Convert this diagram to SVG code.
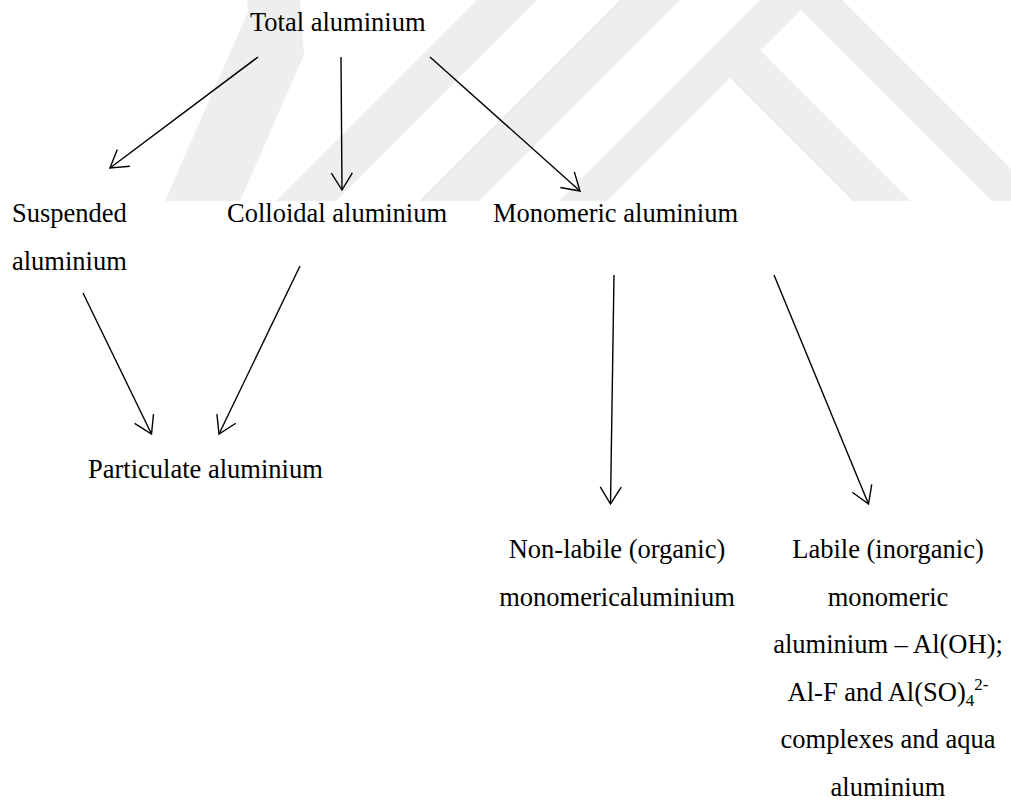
<svg xmlns="http://www.w3.org/2000/svg" width="1011" height="803" viewBox="0 0 1011 803">
  <defs>
    <style>
      .t { font-family: "Liberation Serif", "Times New Roman", serif; font-size: 26.5px; fill: #000; }
      .c { text-anchor: middle; }
      .edge { stroke: #000; stroke-width: 1.4; fill: none; marker-end: url(#ah); }
      .wm { fill: #eeeeee; stroke: none; }
    </style>
    <marker id="ah" viewBox="-20 -12 22 24" refX="0" refY="0" markerWidth="22" markerHeight="24" markerUnits="userSpaceOnUse" orient="auto">
      <path d="M-17,-10.5 L0,0 L-17,10.5" fill="none" stroke="#000" stroke-width="1.4"/>
    </marker>
  </defs>
  <rect width="1011" height="803" fill="#ffffff"/>

  <g id="watermark">
    <polygon class="wm" points="247,0 300,0 304,55 240,201 165,201 248,12"/>
    <polygon class="wm" points="477,0 537,0 336,201 276,201"/>
    <polygon class="wm" points="620,0 680,0 479,201 419,201"/>
    <polygon class="wm" points="760,0 842,0 1011,169 1011,201 992,201 801,10 760.5,50.5 911,201 853,201 730,78 607,201 559,201"/>
  </g>

  <g id="connectors">
    <line class="edge" x1="258" y1="57" x2="110" y2="168"/>
    <line class="edge" x1="341" y1="57" x2="342" y2="190"/>
    <line class="edge" x1="430" y1="57" x2="580" y2="191"/>
    <line class="edge" x1="83" y1="293" x2="151.5" y2="434"/>
    <line class="edge" x1="300" y1="266" x2="219" y2="434"/>
    <line class="edge" x1="614" y1="275" x2="610.5" y2="504"/>
    <line class="edge" x1="774" y1="275" x2="868.5" y2="504"/>
  </g>

  <g id="total">
    <text class="t" x="250" y="31">Total aluminium</text>
  </g>
  <g id="suspended">
    <text class="t" x="12" y="222">Suspended</text>
    <text class="t" x="12" y="270">aluminium</text>
  </g>
  <g id="colloidal">
    <text class="t" x="227" y="222">Colloidal aluminium</text>
  </g>
  <g id="monomeric">
    <text class="t" x="493" y="222">Monomeric aluminium</text>
  </g>
  <g id="particulate">
    <text class="t" x="88" y="478">Particulate aluminium</text>
  </g>
  <g id="nonlabile">
    <text class="t c" x="617" y="558">Non-labile (organic)</text>
    <text class="t c" x="617" y="605.6">monomericaluminium</text>
  </g>
  <g id="labile">
    <text class="t c" x="888" y="558">Labile (inorganic)</text>
    <text class="t c" x="888" y="605.6">monomeric</text>
    <text class="t c" x="888" y="653.2">aluminium – Al(OH);</text>
    <text class="t c" x="888" y="700.8">Al-F and Al(SO)<tspan dy="5" font-size="17">4</tspan><tspan dy="-16" font-size="17">2-</tspan></text>
    <text class="t c" x="888" y="748.4">complexes and aqua</text>
    <text class="t c" x="888" y="795.5">aluminium</text>
  </g>
</svg>
